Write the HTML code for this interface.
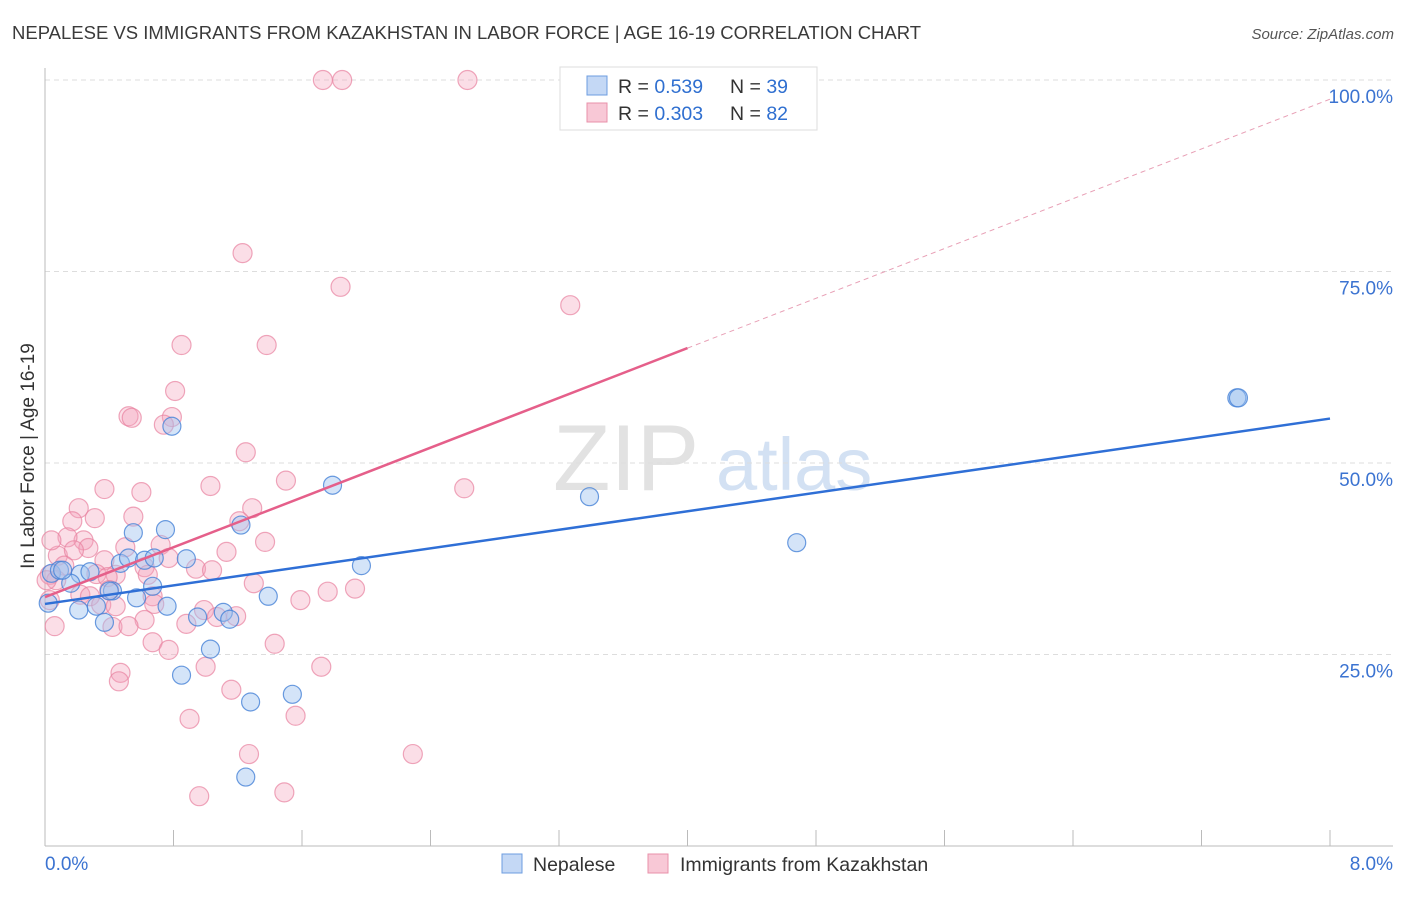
<!DOCTYPE html>
<html><head><meta charset="utf-8"><style>
body{margin:0;background:#fff;font-family:"Liberation Sans",sans-serif}
svg text{font-family:"Liberation Sans",sans-serif}
</style></head><body>
<svg id="chart" width="1406" height="892" viewBox="0 0 1406 892">
<text x="12" y="39" font-size="18.5" fill="#3a3a3a">NEPALESE VS IMMIGRANTS FROM KAZAKHSTAN IN LABOR FORCE | AGE 16-19 CORRELATION CHART</text>
<text x="1394" y="39" font-size="15" fill="#555" font-style="italic" text-anchor="end">Source: ZipAtlas.com</text>
<g><text x="553" y="490" font-size="94" fill="#e2e2e2" font-family="Liberation Serif,serif">ZIP</text><text x="716" y="490" font-size="74" fill="#d3e1f3">atlas</text></g>
<g id="grid"></g>
<g id="axes"></g>
<g id="marks"></g>
<g id="lines"></g>
<text transform="translate(34,456) rotate(-90)" font-size="19" fill="#333" text-anchor="middle">In Labor Force | Age 16-19</text>
<g>
<rect x="560" y="67" width="257" height="63" fill="#fff" stroke="#ddd"/>
<rect x="587" y="76" width="20" height="19" fill="#c4d8f5" stroke="#6d9de0"/>
<rect x="587" y="103" width="20" height="19" fill="#f8c8d6" stroke="#e890aa"/>
<text x="618" y="93" font-size="19.5" fill="#333">R = <tspan fill="#2f6fd0">0.539</tspan></text>
<text x="730" y="93" font-size="19.5" fill="#333">N = <tspan fill="#2f6fd0">39</tspan></text>
<text x="618" y="120" font-size="19.5" fill="#333">R = <tspan fill="#2f6fd0">0.303</tspan></text>
<text x="730" y="120" font-size="19.5" fill="#333">N = <tspan fill="#2f6fd0">82</tspan></text>
</g>
<g>
<rect x="502" y="854" width="20" height="19" fill="#c4d8f5" stroke="#6d9de0"/>
<text x="533" y="871" font-size="19.5" fill="#333">Nepalese</text>
<rect x="648" y="854" width="20" height="19" fill="#f8c8d6" stroke="#e890aa"/>
<text x="680" y="871" font-size="19.5" fill="#333">Immigrants from Kazakhstan</text>
</g>
</svg>
<script>
const xTickLabels=["0.0%","8.0%"];
const yTicks=[25,50,75,100];
const yTickLabels=["25.0%","50.0%","75.0%","100.0%"];
const blueX=[0.04,0.09,0.22,0.16,0.28,0.02,0.21,0.32,0.37,0.42,0.40,0.47,0.55,0.52,0.57,0.62,0.67,0.68,0.75,0.76,0.79,0.88,0.85,0.95,1.03,1.11,1.15,1.22,1.28,1.25,1.39,1.54,1.79,1.97,3.39,4.68,7.42,7.43,0.11];
const blueY=[35.6,36.0,35.5,34.3,35.8,31.7,30.8,31.3,29.2,33.3,33.3,36.9,40.9,37.6,32.4,37.3,33.9,37.6,41.3,31.3,54.8,37.5,22.3,29.9,25.7,30.5,29.6,41.9,18.8,9.0,32.6,19.8,47.1,36.6,45.6,39.6,58.5,58.5,36.0];
const pinkX=[1.73,1.85,2.63,1.23,1.84,3.27,0.85,1.38,0.81,0.52,0.54,0.79,0.74,1.25,1.03,1.50,0.37,0.60,2.61,0.21,1.29,0.17,0.31,0.55,1.21,0.24,0.14,0.72,0.50,0.27,1.37,0.08,0.18,0.77,1.13,0.37,0.12,0.03,0.44,0.62,0.64,0.94,1.04,0.32,0.39,0.07,0.03,0.06,0.22,0.28,0.35,0.44,0.67,0.68,0.99,1.07,1.19,1.30,1.59,1.76,1.93,1.43,0.62,0.42,0.52,0.67,0.77,0.88,1.00,0.47,0.46,1.16,1.72,0.90,1.56,1.27,2.29,0.96,1.49,0.04,0.01,0.40];
const pinkY=[100,100,100,77.4,73.0,70.6,65.4,65.4,59.4,56.1,55.9,56.0,55.0,51.4,47.0,47.7,46.6,46.2,46.7,44.1,44.1,42.4,42.8,43.0,42.4,39.9,40.3,39.3,39.0,38.9,39.7,37.9,38.6,37.6,38.4,37.3,36.6,35.4,35.4,36.4,35.4,36.2,36.0,35.5,35.1,34.7,32.1,28.7,32.8,32.6,31.5,31.3,32.6,31.6,30.8,29.9,30.0,34.3,32.1,33.2,33.6,26.4,29.5,28.6,28.7,26.6,25.6,29.0,23.4,22.6,21.5,20.4,23.4,16.6,17.0,12.0,12.0,6.5,7.0,39.9,34.7,33.4];
const blueTrend=[31.6,55.8];
const pinkTrend=[32.5,97.5];
const X0=45,X1=1330,Y0=846,Y100=80;
const sx=v=>X0+(v/8)*(X1-X0);
const sy=v=>Y0-(v/100)*(Y0-Y100);
const NS="http://www.w3.org/2000/svg";
function mk(tag,attrs,parent){const e=document.createElementNS(NS,tag);for(const k in attrs)e.setAttribute(k,attrs[k]);parent.appendChild(e);return e;}
const grid=document.getElementById('grid'),axes=document.getElementById('axes'),marks=document.getElementById('marks'),lines=document.getElementById('lines');
yTicks.forEach((t,i)=>{
 const g=mk('line',{x1:X0,x2:1393,y1:sy(t),y2:sy(t),stroke:'#ddd','stroke-dasharray':'5,4'},grid);
 
 
 const l=mk('text',{x:1393,y:sy(t)+23,'font-size':19,fill:'#3b73d1','text-anchor':'end'},axes);
 l.textContent=yTickLabels[i];
 
 
});
const ya=mk('line',{x1:X0,x2:X0,y1:68,y2:Y0,stroke:'#bbb'},axes);


const xa=mk('line',{x1:X0,x2:1393,y1:Y0,y2:Y0,stroke:'#bbb'},axes);


for(let i=0;i<=10;i++){const t=mk('line',{x1:sx(i*0.8),x2:sx(i*0.8),y1:830,y2:Y0,stroke:'#bbb'},axes);
 
 }
[[X0,'start',0],[1393,'end',1]].forEach(([x,a,i])=>{const t=mk('text',{x:x,y:870,'font-size':19,fill:'#3b73d1','text-anchor':a},axes);t.textContent=xTickLabels[i];
 
 });
pinkX.forEach((x,i)=>{const c=mk('circle',{cx:sx(x),cy:sy(pinkY[i]),r:9.5,fill:'rgba(244,160,185,0.35)',stroke:'rgba(232,130,160,0.7)','stroke-width':1.2},marks);
 
 });
blueX.forEach((x,i)=>{const c=mk('circle',{cx:sx(x),cy:sy(blueY[i]),r:9,fill:'rgba(160,195,240,0.45)',stroke:'rgba(70,130,215,0.8)','stroke-width':1.2},marks);
 
 });
const bl=mk('line',{x1:sx(0),y1:sy(blueTrend[0]),x2:sx(8),y2:sy(blueTrend[1]),stroke:'#2f6fd6','stroke-width':2.5},lines);


const pm=pinkTrend[0]+(pinkTrend[1]-pinkTrend[0])*0.5;
const pl=mk('line',{x1:sx(0),y1:sy(pinkTrend[0]),x2:sx(4),y2:sy(pm),stroke:'#e55f8a','stroke-width':2.5},lines);


const pd=mk('line',{x1:sx(4),y1:sy(pm),x2:sx(8),y2:sy(pinkTrend[1]),stroke:'#e8a0b6','stroke-width':1,'stroke-dasharray':'5,4'},lines);


</script>
</body></html>
